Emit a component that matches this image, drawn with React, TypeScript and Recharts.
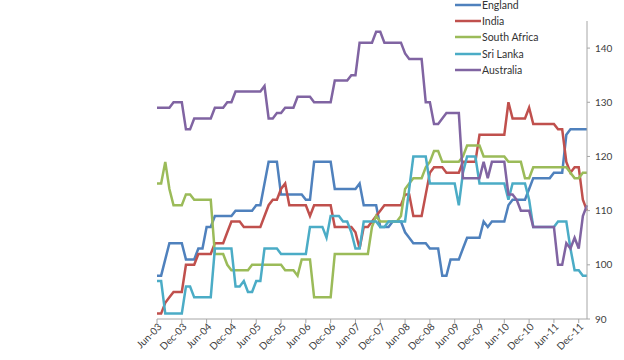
import React from "react";
import { LineChart, Line, XAxis, YAxis, Legend } from "recharts";

const MONTH_NAMES = ["Jan","Feb","Mar","Apr","May","Jun","Jul","Aug","Sep","Oct","Nov","Dec"];
// Monthly categories Jun-03 .. Feb-12
const categories: string[] = Array.from({ length: 105 }, (_, i) => {
  const t = 5 + i;
  const yr = 3 + Math.floor(t / 12);
  return `${MONTH_NAMES[t % 12]}-${String(yr).padStart(2, "0")}`;
});

const england = [
  98,98,101,104,104,104,104,101,101,101,
  103,103,107,107,109,109,109,109,109,110,
  110,110,110,110,111,111,115,119,119,119,
  113,113,113,113,113,113,112,112,119,119,
  119,119,119,114,114,114,114,114,114,115,
  111,111,111,111,107,107,107,108,108,108,
  106,105,104,104,104,104,103,103,103,98,
  98,101,101,101,103,105,105,105,105,108,
  107,108,108,108,108,111,112,112,112,112,
  114,116,116,116,116,116,117,117,117,124,
  125,125,125,125,125,
];
const india = [
  91,91,93,94,95,95,95,100,100,100,
  102,102,102,102,104,104,104,106,108,108,
  108,107,107,107,107,107,109,111,112,112,
  114,115,111,111,111,111,111,109,111,111,
  111,111,111,107,107,107,107,107,106,103,
  107,107,108,109,110,111,111,111,111,111,
  113,113,109,109,109,113,117,118,118,118,
  117,117,117,117,119,119,119,119,124,124,
  124,124,124,124,124,130,127,127,127,127,
  129,126,126,126,126,126,126,125,125,119,
  117,118,118,112,110,
];
const southAfrica = [
  115,115,119,114,111,111,111,113,113,112,
  112,112,112,112,102,102,102,100,99,99,
  99,99,99,100,100,100,100,100,100,100,
  100,99,99,99,98,101,101,101,94,94,
  94,94,94,102,102,102,102,102,102,102,
  102,102,107,109,108,108,108,108,108,109,
  114,115,116,116,116,118,119,121,121,119,
  119,119,119,119,120,122,122,122,122,120,
  120,120,120,120,120,119,119,119,119,116,
  116,118,118,118,118,118,118,118,118,118,
  117,116,116,117,117,
];
const sriLanka = [
  97,97,91,91,91,91,91,96,96,94,
  94,94,94,94,103,103,103,103,103,96,
  96,97,95,95,97,97,103,103,103,103,
  102,102,102,102,102,102,102,107,107,107,
  107,105,109,109,109,108,108,106,103,103,
  108,108,108,108,107,107,108,108,108,108,
  108,114,120,120,120,120,115,115,115,115,
  115,115,115,111,117,120,120,120,115,115,
  115,115,115,115,115,112,115,115,115,115,
  112,107,107,107,107,107,107,108,108,108,
  103,99,99,98,98,
];
const australia = [
  129,129,129,129,130,130,130,125,125,127,
  127,127,127,127,129,129,129,130,130,132,
  132,132,132,132,132,132,133,127,127,128,
  128,129,129,129,131,131,131,131,130,130,
  130,130,130,134,134,134,134,135,135,141,
  141,141,141,143,143,141,141,141,141,141,
  139,138,138,138,138,130,130,126,126,127,
  128,128,128,128,116,116,116,116,116,119,
  116,119,119,119,119,113,113,112,110,110,
  110,107,107,107,107,107,107,100,100,104,
  103,105,103,109,111,
];
const yTicks = [90, 100, 110, 120, 130, 140];

const series = [
  { key: "England", values: england, color: "#4F81BD" },
  { key: "India", values: india, color: "#C0504D" },
  { key: "South Africa", values: southAfrica, color: "#9BBB59" },
  { key: "Sri Lanka", values: sriLanka, color: "#4BACC6" },
  { key: "Australia", values: australia, color: "#8064A2" },
];

const data = categories.map((month, i) => {
  const row: Record<string, string | number> = { month };
  series.forEach((s) => { row[s.key] = s.values[i]; });
  return row;
});

const FONT = "Lato, 'Open Sans', sans-serif";

const XTick = (props: any) => {
  const { x, y, payload } = props;
  return (
    <g transform={`translate(${x + 3},${y})`}>
      <text x={0} y={0} dy="0.35em" textAnchor="end" transform="rotate(-45)"
        fontSize={10} fontFamily={FONT} fill="#404040">{payload.value}</text>
    </g>
  );
};

const renderLegend = () => (
  <div style={{ fontFamily: FONT, fontSize: 10.5, color: "#333" }}>
    {series.map((s) => (
      <div key={s.key} style={{ height: 16.2, display: "flex", alignItems: "center" }}>
        <svg width={26} height={8} style={{ display: "block" }}>
          <line x1={0} y1={4} x2={26} y2={4} stroke={s.color} strokeWidth={2.5} />
        </svg>
        <span style={{ marginLeft: 1 }}>{s.key}</span>
      </div>
    ))}
  </div>
);

export default function App() {
  return (
    <div style={{ position: "absolute", left: 0, top: 0, background: "#fff" }}>
      <LineChart width={624} height={360} data={data}
        margin={{ top: 21, right: 0, bottom: 0, left: 27 }}>
        <XAxis dataKey="month" interval={5} height={41} tickSize={4}
          axisLine={{ stroke: "#a6a6a6" }} tickLine={{ stroke: "#a6a6a6" }}
          tick={<XTick />} />
        <YAxis orientation="right" width={37} domain={[90, 145]} ticks={yTicks}
          allowDataOverflow tickSize={3} tickMargin={5}
          axisLine={{ stroke: "#a6a6a6" }} tickLine={{ stroke: "#a6a6a6" }}
          tick={{ fontSize: 10, fontFamily: FONT, fill: "#404040" }} />
        <Legend layout="vertical" verticalAlign="top" align="left" content={renderLegend}
          wrapperStyle={{ top: -3, left: 455, width: 130 }} />
        {series.map((s) => (
          <Line key={s.key} type="linear" dataKey={s.key} stroke={s.color} strokeWidth={2.5}
            dot={false} activeDot={false} isAnimationActive={false} />
        ))}
      </LineChart>
    </div>
  );
}
